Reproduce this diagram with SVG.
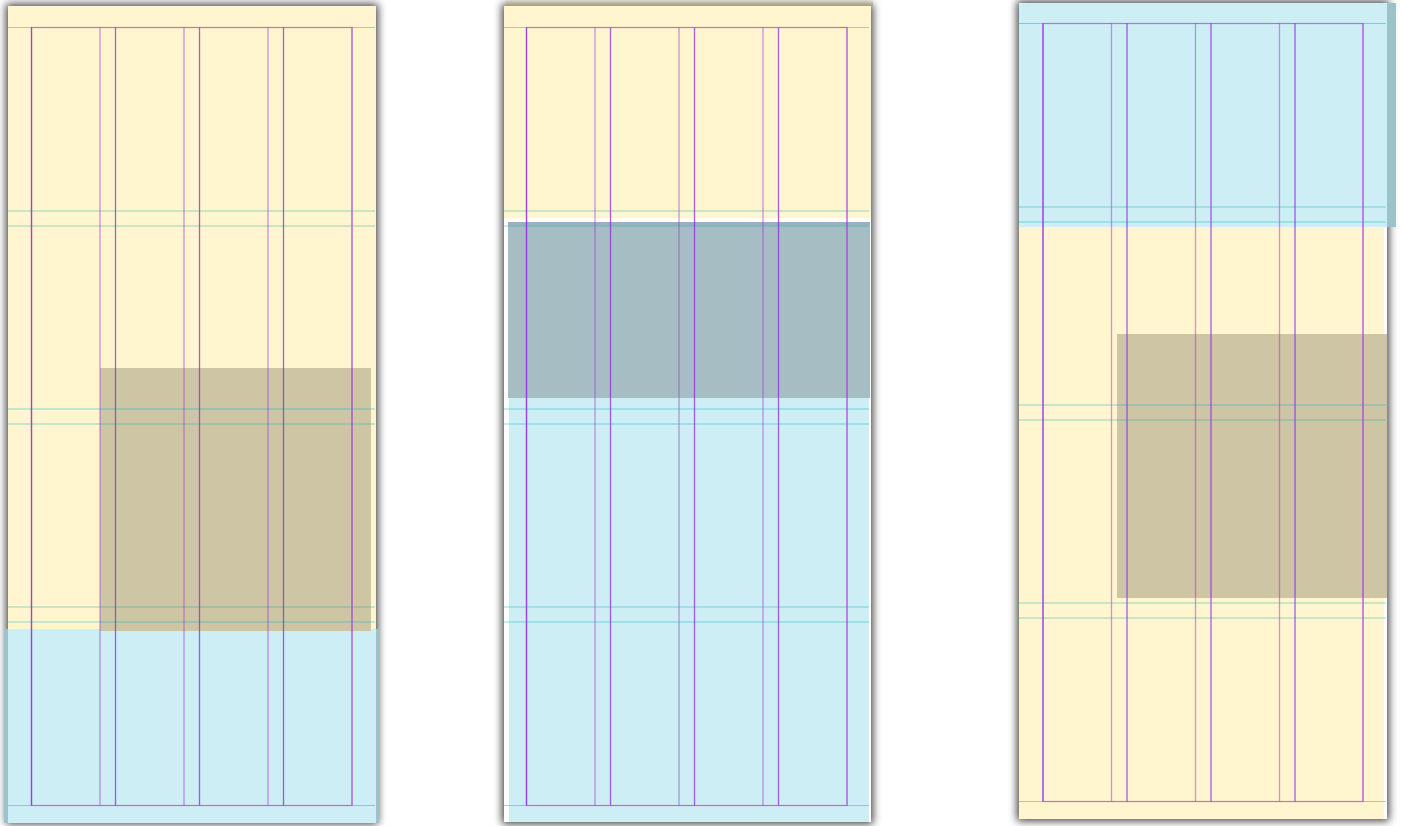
<svg xmlns="http://www.w3.org/2000/svg" width="1402" height="826" viewBox="0 0 1402 826">
  <defs>
    <filter id="sh" x="-10%" y="-5%" width="120%" height="110%">
      <feMorphology in="SourceAlpha" operator="dilate" radius="2" result="d"/>
      <feGaussianBlur in="d" stdDeviation="4" result="b"/>
      <feComponentTransfer in="b" result="s">
        <feFuncA type="linear" slope="0.75"/>
      </feComponentTransfer>
      <feMerge>
        <feMergeNode in="s"/>
        <feMergeNode in="SourceGraphic"/>
      </feMerge>
    </filter>
    <linearGradient id="topsh" x1="0" y1="0" x2="0" y2="1">
      <stop offset="0" stop-color="#d8d2bc" stop-opacity="0.3"/>
      <stop offset="1" stop-color="#a99d76"/>
    </linearGradient>
    <style>
      .yel{fill:#fff5cf}
      .blu{fill:#cdeef5}
      .bludk{fill:#9cc3ca}
      .brn{fill:#cec5a5}
      .gry{fill:#a6bdc4}
      .pg{fill:#ffffff}
      .row{stroke:#00b0b8;stroke-opacity:0.45;stroke-width:1.2;fill:none}
      .cA{stroke:#8a2ae0;stroke-opacity:0.75;stroke-width:1.3;fill:none}
      .cB{stroke:#a030d8;stroke-opacity:0.5;stroke-width:1.3;fill:none}
      .mg{stroke:#b040e0;stroke-opacity:0.55;stroke-width:1.3;fill:none}
    </style>
  </defs>
  <rect width="1402" height="826" fill="#ffffff"/>

  <g id="page1">
    <rect x="8" y="6" width="368" height="816" class="yel" filter="url(#sh)"/>
    <rect x="4" y="629" width="375" height="194" class="bludk"/>
    <rect x="8" y="629" width="368" height="194" class="blu"/>
    <rect x="100" y="368" width="271" height="263" class="brn"/>
    <g id="p1-rows">
      <line x1="8" y1="27.5" x2="375" y2="27.5" class="row"/>
      <line x1="8" y1="211" x2="375" y2="211" class="row"/>
      <line x1="8" y1="226" x2="375" y2="226" class="row"/>
      <line x1="8" y1="409" x2="375" y2="409" class="row"/>
      <line x1="8" y1="424" x2="375" y2="424" class="row"/>
      <line x1="8" y1="607" x2="375" y2="607" class="row"/>
      <line x1="8" y1="622" x2="375" y2="622" class="row"/>
      <line x1="8" y1="805.5" x2="375" y2="805.5" class="row"/>
    </g>
    <g id="p1-cols">
      <rect x="31.5" y="27.5" width="320.5" height="778" class="mg"/>
      <line x1="31.5" y1="27.5" x2="31.5" y2="805.5" class="cA"/>
      <line x1="100" y1="27.5" x2="100" y2="805.5" class="cB"/>
      <line x1="115.5" y1="27.5" x2="115.5" y2="805.5" class="cA"/>
      <line x1="184" y1="27.5" x2="184" y2="805.5" class="cB"/>
      <line x1="199.5" y1="27.5" x2="199.5" y2="805.5" class="cA"/>
      <line x1="268" y1="27.5" x2="268" y2="805.5" class="cB"/>
      <line x1="283.5" y1="27.5" x2="283.5" y2="805.5" class="cA"/>
      <line x1="352" y1="27.5" x2="352" y2="805.5" class="cB"/>
    </g>
  </g>

  <g id="page2">
    <rect x="504" y="6" width="367" height="816" class="pg" filter="url(#sh)"/>
    <rect x="506" y="0" width="367" height="6" fill="url(#topsh)"/>
    <rect x="504" y="6" width="367" height="212" class="yel"/>
    <rect x="509" y="398" width="360" height="424" class="blu"/>
    <rect x="508" y="222" width="362" height="176" class="gry"/>
    <rect x="508" y="222" width="362" height="3" fill="#97b2ba"/>
    <g id="p2-rows">
      <line x1="504" y1="27.5" x2="869" y2="27.5" class="row"/>
      <line x1="504" y1="211" x2="869" y2="211" class="row"/>
      <line x1="504" y1="226" x2="869" y2="226" class="row"/>
      <line x1="504" y1="409" x2="869" y2="409" class="row"/>
      <line x1="504" y1="424" x2="869" y2="424" class="row"/>
      <line x1="504" y1="607" x2="869" y2="607" class="row"/>
      <line x1="504" y1="622" x2="869" y2="622" class="row"/>
      <line x1="504" y1="805.5" x2="869" y2="805.5" class="row"/>
    </g>
    <g id="p2-cols">
      <rect x="526.5" y="27.5" width="320.5" height="778" class="mg"/>
      <line x1="526.5" y1="27.5" x2="526.5" y2="805.5" class="cA"/>
      <line x1="595" y1="27.5" x2="595" y2="805.5" class="cB"/>
      <line x1="610.5" y1="27.5" x2="610.5" y2="805.5" class="cA"/>
      <line x1="679" y1="27.5" x2="679" y2="805.5" class="cB"/>
      <line x1="694.5" y1="27.5" x2="694.5" y2="805.5" class="cA"/>
      <line x1="763" y1="27.5" x2="763" y2="805.5" class="cB"/>
      <line x1="778.5" y1="27.5" x2="778.5" y2="805.5" class="cA"/>
      <line x1="847" y1="27.5" x2="847" y2="805.5" class="cB"/>
    </g>
  </g>

  <g id="page3">
    <rect x="1019" y="3" width="368" height="816" class="pg" filter="url(#sh)"/>
    <rect x="1019" y="226" width="365" height="593" class="yel"/>
    <rect x="1019" y="3" width="377" height="224" class="bludk"/>
    <rect x="1019" y="3" width="368" height="224" class="blu"/>
    <rect x="1117" y="334" width="270" height="264" class="brn"/>
    <g id="p3-rows">
      <line x1="1019" y1="23.5" x2="1386" y2="23.5" class="row"/>
      <line x1="1019" y1="207" x2="1386" y2="207" class="row"/>
      <line x1="1019" y1="222" x2="1386" y2="222" class="row"/>
      <line x1="1019" y1="405" x2="1386" y2="405" class="row"/>
      <line x1="1019" y1="420" x2="1386" y2="420" class="row"/>
      <line x1="1019" y1="603" x2="1386" y2="603" class="row"/>
      <line x1="1019" y1="618" x2="1386" y2="618" class="row"/>
      <line x1="1019" y1="801.5" x2="1386" y2="801.5" class="row"/>
    </g>
    <g id="p3-cols">
      <rect x="1043" y="23.5" width="320" height="778" class="mg"/>
      <line x1="1043" y1="23.5" x2="1043" y2="801.5" class="cA"/>
      <line x1="1111.5" y1="23.5" x2="1111.5" y2="801.5" class="cB"/>
      <line x1="1127" y1="23.5" x2="1127" y2="801.5" class="cA"/>
      <line x1="1195.5" y1="23.5" x2="1195.5" y2="801.5" class="cB"/>
      <line x1="1211" y1="23.5" x2="1211" y2="801.5" class="cA"/>
      <line x1="1279.5" y1="23.5" x2="1279.5" y2="801.5" class="cB"/>
      <line x1="1295" y1="23.5" x2="1295" y2="801.5" class="cA"/>
      <line x1="1363" y1="23.5" x2="1363" y2="801.5" class="cB"/>
    </g>
  </g>
</svg>
